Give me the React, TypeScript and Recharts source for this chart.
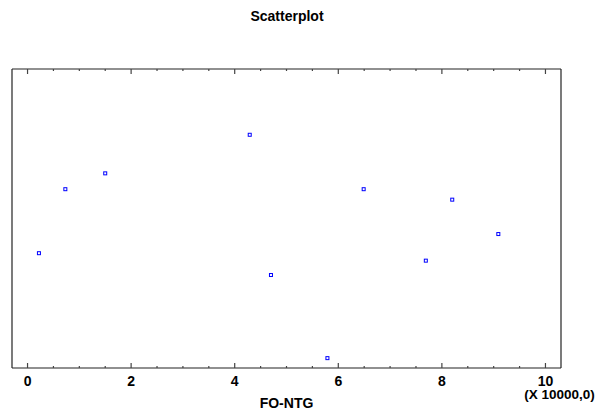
import React from 'react';
import { ScatterChart, Scatter, XAxis, YAxis } from 'recharts';

// FO-NTG values (in units of 10000)
const foNtg = [0.22, 0.73, 1.5, 4.29, 4.7, 5.79, 6.49, 7.69, 8.2, 9.09];
// vertical values (relative scale, axis unlabeled)
const yValues = [38.4, 59.8, 65.1, 78.0, 31.1, 3.3, 59.8, 35.9, 56.3, 44.8];
const majorTicks = [0, 2, 4, 6, 8, 10];
const allTicks = [0, 0.5, 1, 1.5, 2, 2.5, 3, 3.5, 4, 4.5, 5, 5.5, 6, 6.5, 7, 7.5, 8, 8.5, 9, 9.5, 10];
const xDomain = [-0.3, 10.3];
const yDomain = [0, 100];

const data = foNtg.map((x, i) => ({ x, y: yValues[i] }));

const FONT = '"Liberation Sans", Arial, sans-serif';

const BottomTick = (props: any) => {
  const { x, y, payload } = props;
  const v = payload.value;
  const major = majorTicks.includes(v);
  return (
    <g>
      <line x1={x} x2={x} y1={y} y2={y - (major ? 5 : 2)} stroke="#444" strokeWidth={1.2} />
      {major && (
        <text x={x} y={y + 18} textAnchor="middle" fontFamily={FONT} fontWeight="bold" fontSize={14} fill="#000">
          {v}
        </text>
      )}
      {v === 10 && (
        <text x={x + 14} y={y + 31} textAnchor="middle" fontFamily={FONT} fontWeight="bold" fontSize={13.5} fill="#000">
          (X 10000,0)
        </text>
      )}
    </g>
  );
};

const TopTick = (props: any) => {
  const { x, y, payload } = props;
  const major = majorTicks.includes(payload.value);
  return <line x1={x} x2={x} y1={y} y2={y + (major ? 5 : 2)} stroke="#444" strokeWidth={1.2} />;
};

const Marker = (props: any) => {
  const { cx, cy } = props;
  return <rect x={cx - 1.5} y={cy - 1.5} width={3} height={3} fill="#fff" stroke="#0000ff" strokeWidth={1} />;
};

const axisLineStyle = { stroke: '#222', strokeWidth: 1.2 };

export default function App() {
  return (
    <div style={{ position: 'absolute', left: 0, top: 0, width: 600, height: 412, background: '#fff' }}>
      <div
        style={{
          position: 'absolute',
          left: 0,
          width: 574,
          top: 8,
          textAlign: 'center',
          fontFamily: FONT,
          fontWeight: 'bold',
          fontSize: 14,
          lineHeight: '17px',
          color: '#000',
        }}
      >
        Scatterplot
      </div>
      <ScatterChart width={600} height={412} margin={{ top: 59, right: 29, bottom: 14, left: 2 }}>
        <XAxis
          xAxisId="bottom"
          type="number"
          dataKey="x"
          domain={xDomain}
          allowDataOverflow
          ticks={allTicks}
          interval={0}
          tick={<BottomTick />}
          tickLine={false}
          tickSize={0}
          tickMargin={0}
          height={30}
          axisLine={axisLineStyle}
          label={{ value: 'FO-NTG', position: 'bottom', offset: 0, fontFamily: FONT, fontWeight: 'bold', fontSize: 14, fill: '#000' }}
        />
        <XAxis
          xAxisId="top"
          orientation="top"
          type="number"
          dataKey="x"
          domain={xDomain}
          allowDataOverflow
          ticks={allTicks}
          interval={0}
          tick={<TopTick />}
          tickLine={false}
          tickSize={0}
          tickMargin={0}
          height={10}
          axisLine={axisLineStyle}
        />
        <YAxis
          yAxisId="left"
          type="number"
          dataKey="y"
          domain={yDomain}
          allowDataOverflow
          width={10}
          tick={false}
          tickLine={false}
          axisLine={axisLineStyle}
        />
        <YAxis
          yAxisId="right"
          orientation="right"
          type="number"
          dataKey="y"
          domain={yDomain}
          allowDataOverflow
          width={10}
          tick={false}
          tickLine={false}
          axisLine={axisLineStyle}
        />
        <Scatter data={data} xAxisId="bottom" yAxisId="left" shape={<Marker />} isAnimationActive={false} />
        <Scatter data={data} xAxisId="top" yAxisId="right" shape={() => <g />} isAnimationActive={false} />
      </ScatterChart>
    </div>
  );
}
